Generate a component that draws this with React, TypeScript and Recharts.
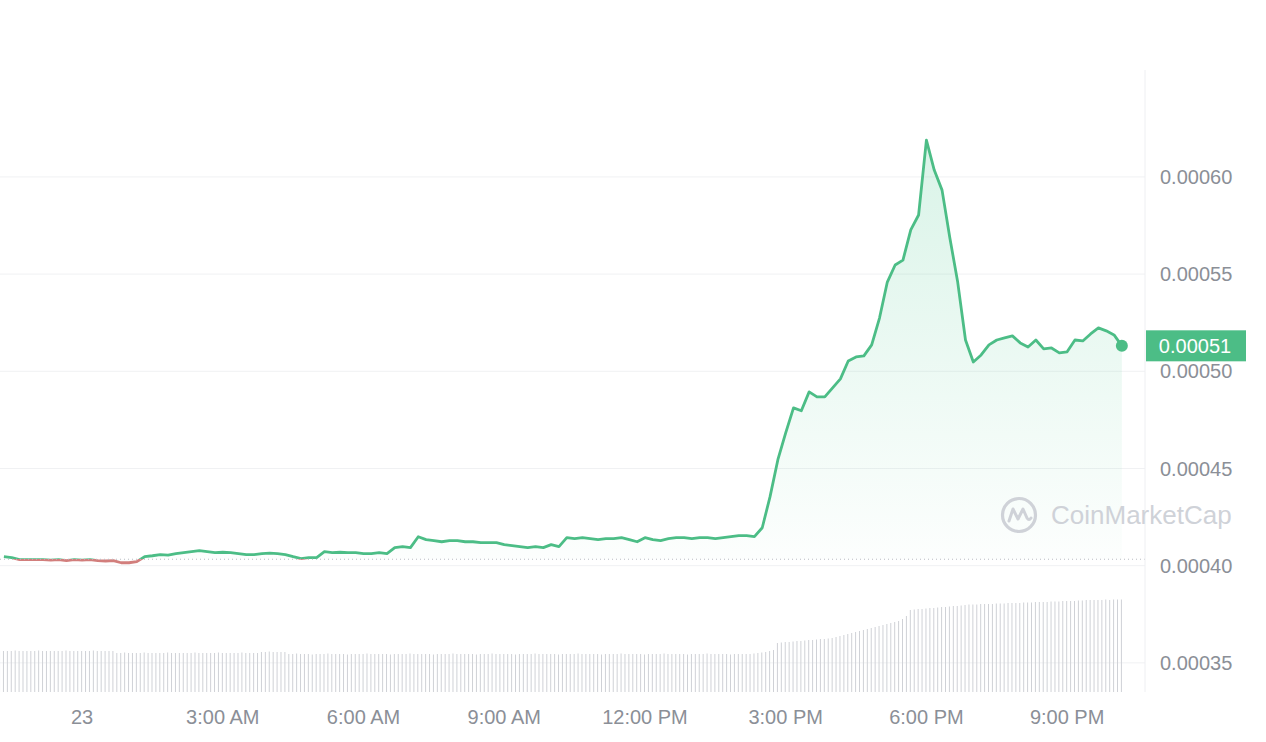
import {
  Area,
  Bar,
  CartesianGrid,
  ComposedChart,
  ReferenceDot,
  ReferenceLine,
  XAxis,
  YAxis
} from "recharts";

// time axis, in hours from midnight on the 23rd
const START_HOUR = -1.75;
const STEP_H = 5 / 60;

const X_TICKS = [0, 3, 6, 9, 12, 15, 18, 21];
const X_LABELS = ["23", "3:00 AM", "6:00 AM", "9:00 AM", "12:00 PM", "3:00 PM", "6:00 PM", "9:00 PM"];
const Y_TICKS = [0.00035, 0.0004, 0.00045, 0.0005, 0.00055, 0.0006];

const OPEN_PRICE = 0.0004033;

// price, one value every 10 minutes
const PRICES = [
  0.0004046, 0.0004041, 0.0004031, 0.0004031, 0.0004031, 0.0004031, 0.0004028, 0.0004031,
  0.0004026, 0.0004031, 0.0004028, 0.0004031, 0.0004026, 0.0004024, 0.0004026, 0.0004015,
  0.0004015, 0.0004021, 0.0004046, 0.0004051, 0.0004057, 0.0004054, 0.0004062, 0.0004067,
  0.0004072, 0.0004077, 0.0004072, 0.0004067, 0.0004069, 0.0004067, 0.0004062, 0.0004057,
  0.0004057, 0.0004062, 0.0004064, 0.0004062, 0.0004057, 0.0004046, 0.0004036, 0.0004041,
  0.0004041, 0.0004072, 0.0004067, 0.0004069, 0.0004067, 0.0004067, 0.0004062, 0.0004062,
  0.0004067, 0.0004062, 0.0004093, 0.0004098, 0.0004093, 0.0004149, 0.0004134, 0.0004129,
  0.0004123, 0.0004129, 0.0004129, 0.0004123, 0.0004123, 0.0004118, 0.0004118, 0.0004118,
  0.0004108, 0.0004103, 0.0004098, 0.0004093, 0.0004098, 0.0004093, 0.0004108, 0.0004098,
  0.0004144, 0.0004139, 0.0004144, 0.0004139, 0.0004134, 0.0004139, 0.0004139, 0.0004144,
  0.0004134, 0.0004123, 0.0004144, 0.0004134, 0.0004129, 0.0004139, 0.0004144, 0.0004144,
  0.0004139, 0.0004144, 0.0004144, 0.0004139, 0.0004144, 0.0004149, 0.0004154, 0.0004154,
  0.0004149, 0.0004195, 0.0004355, 0.0004545, 0.0004683, 0.0004812, 0.0004797, 0.0004894,
  0.0004868, 0.0004868, 0.0004915, 0.0004961, 0.0005053, 0.0005074, 0.0005079, 0.0005136,
  0.0005274, 0.0005459, 0.0005547, 0.0005572, 0.0005727, 0.0005804, 0.0006189, 0.0006035,
  0.0005932, 0.0005686, 0.0005459, 0.0005161, 0.0005048, 0.0005084, 0.0005136, 0.0005161,
  0.0005172, 0.0005182, 0.0005146, 0.0005125, 0.0005161, 0.0005115, 0.000512, 0.0005095,
  0.00051, 0.0005161, 0.0005156, 0.0005192, 0.0005223, 0.0005208, 0.0005187, 0.0005131
];

// volume (K), one bar every 5 minutes
const VOLUME = [
  41, 41, 41, 41, 41.5, 41, 41, 41, 41, 41, 41.5, 41, 41, 41, 41, 41, 41, 41.5, 41, 41,
  41, 41, 41, 41, 41.5, 41, 41, 41, 41, 41,
  39, 39, 39.5, 39, 39, 39, 39, 39.5, 39, 39, 39, 39, 39, 39.5, 39, 39, 39, 39, 39, 39,
  39.5, 39, 39, 39, 39, 39, 39.5, 39, 39, 39, 39, 39, 39.5, 39, 39, 39, 39,
  40, 40, 40.5, 40, 40, 40, 40,
  38, 38, 38.5, 38, 38, 38, 37.5, 38, 38, 38, 38.5, 38, 38, 38, 38, 37.5, 38, 38, 38, 38,
  38.5, 38, 38, 38, 38, 38, 37.5, 38, 38, 38, 38, 38.5, 38, 38, 38, 38, 38, 37.5, 38, 38,
  38, 38, 38.5, 38, 38, 38, 38, 38, 37.5, 38, 38, 38, 38.5, 38, 38, 38, 38, 38, 37.5, 38,
  38, 38, 38, 38.5, 38, 38, 38, 38, 38, 37.5, 38, 38, 38, 38, 38.5, 38, 38, 38, 38, 38,
  37.5, 38, 38, 38, 38, 38.5, 38, 38, 38, 38, 38, 37.5, 38, 38, 38, 38, 38.5, 38, 38, 38,
  38, 38, 37.5, 38, 38, 38, 38, 38.5, 38, 38, 38, 38, 38, 37.5, 38, 38, 38, 38, 38,
  38.5, 39, 39.5, 40, 41, 42,
  49, 49.5, 50, 50, 50.5, 51, 51, 51.5, 52, 52, 52.5, 53, 53, 53.5,
  54, 55, 56, 57, 58, 59, 60,
  61, 62, 63, 64,
  65, 66, 67, 68, 69, 70, 71,
  73, 76,
  82, 82.5, 83, 83, 83.5, 84, 84, 84.5, 85, 85, 85.5, 86, 86, 86.5, 87,
  87.5, 87.5, 87.5, 88, 88, 88, 88, 88.5, 88.5, 88.5, 89, 89, 89, 89, 89.5, 89.5, 89.5, 90,
  90, 90, 90, 90.5, 90.5, 90.5, 91, 91, 91, 91, 91.5, 91.5, 92,
  92, 92, 92, 92, 92.5, 92, 92.5, 92.5, 92.5
];

const GREEN = "#4cbd86";
const RED = "#d27e7c";
const LABEL = "#8b8f97";
const FONT = "'Liberation Sans', Arial, sans-serif";

const W = 1266;
const H = 742;
const AXIS_W = 121;
const PLOT_RIGHT = W - AXIS_W;

const data = VOLUME.map((v, i) => ({
  t: START_HOUR + i * STEP_H,
  volume: v,
  price: i % 2 === 1 ? PRICES[(i - 1) / 2] : undefined
}));

const LAST = PRICES[PRICES.length - 1];
const LAST_T = data[data.length - 1].t;
const maxP = Math.max(...PRICES);
const minP = Math.min(...PRICES);
const splitOff = (maxP - OPEN_PRICE) / (maxP - minP);

function LastPrice(props: any) {
  const { cx, cy } = props;
  return (
    <g>
      <circle cx={cx} cy={cy} r={6} fill={GREEN} />
      <rect x={PLOT_RIGHT + 1} y={cy - 15.5} width={100} height={31} fill={GREEN} />
      <text
        x={PLOT_RIGHT + 50}
        y={cy}
        textAnchor="middle"
        dominantBaseline="central"
        fill="#fff"
        fontSize={20}
        fontFamily={FONT}
      >
        {LAST.toFixed(5)}
      </text>
    </g>
  );
}

export default function App() {
  return (
    <div style={{ position: "absolute", left: 0, top: 0, width: W, height: H, background: "#fff" }}>
      <ComposedChart
        width={W}
        height={H}
        data={data}
        margin={{ top: 70, right: 0, bottom: 0, left: 0 }}
        style={{ fontFamily: FONT }}
      >
        <defs>
          <linearGradient id="priceStroke" x1="0" y1="0" x2="0" y2="1">
            <stop offset={0} stopColor={GREEN} />
            <stop offset={splitOff} stopColor={GREEN} />
            <stop offset={splitOff} stopColor={RED} />
            <stop offset={1} stopColor={RED} />
          </linearGradient>
          <linearGradient id="priceFill" x1="0" y1="0" x2="0" y2="1">
            <stop offset={0} stopColor="#3cc386" stopOpacity={0.32} />
            <stop offset={1} stopColor="#3cc386" stopOpacity={0.02} />
          </linearGradient>
        </defs>
        <CartesianGrid
          vertical={false}
          stroke="#f0f1f3"
          yAxisId="price"
          horizontalValues={Y_TICKS}
        />
        <XAxis
          dataKey="t"
          type="number"
          domain={[START_HOUR, 22.66]}
          allowDataOverflow
          ticks={X_TICKS}
          tickFormatter={(v: number) => X_LABELS[X_TICKS.indexOf(v)]}
          axisLine={false}
          tickLine={false}
          tickSize={0}
          tickMargin={18}
          height={50}
          tick={{ fill: LABEL, fontSize: 20 }}
        />
        <YAxis
          yAxisId="price"
          orientation="right"
          width={AXIS_W}
          domain={[0.000335, 0.000655]}
          ticks={Y_TICKS}
          tickFormatter={(v: number) => v.toFixed(5)}
          axisLine={{ stroke: "#eeeff2" }}
          tickLine={false}
          tickSize={0}
          tickMargin={15}
          tick={{ fill: LABEL, fontSize: 20, textAnchor: "start" }}
          allowDataOverflow
        />
        <YAxis yAxisId="vol" hide domain={[0, 622]} />
        <Bar yAxisId="vol" dataKey="volume" barSize={1} fill="#cfd1d6" isAnimationActive={false} />
        <ReferenceLine
          yAxisId="price"
          y={OPEN_PRICE}
          stroke="#b9bcc2"
          strokeDasharray="1 3"
        />
        <Area
          yAxisId="price"
          dataKey="price"
          type="linear"
          connectNulls
          baseValue={OPEN_PRICE}
          stroke="url(#priceStroke)"
          strokeWidth={2.8}
          strokeLinejoin="round"
          fill="url(#priceFill)"
          dot={false}
          activeDot={false}
          isAnimationActive={false}
        />
        <ReferenceDot yAxisId="price" x={LAST_T} y={LAST} shape={LastPrice} />
      </ComposedChart>
      <div
        style={{
          position: "absolute",
          left: 1000,
          top: 496,
          display: "flex",
          alignItems: "center",
          gap: 13,
          color: "#cfd2d8",
          fontFamily: FONT,
          fontSize: 26
        }}
      >
        <svg width={38} height={38} viewBox="0 0 38 38">
          <circle cx={19} cy={19} r={16.5} fill="none" stroke="#cfd2d8" strokeWidth={3.2} />
          <path
            d="M9 25 L13 13 L18 23 L23 13 L27 22 Q29 25 31 22"
            fill="none"
            stroke="#cfd2d8"
            strokeWidth={3}
            strokeLinecap="round"
            strokeLinejoin="round"
          />
        </svg>
        <span>CoinMarketCap</span>
      </div>
    </div>
  );
}
